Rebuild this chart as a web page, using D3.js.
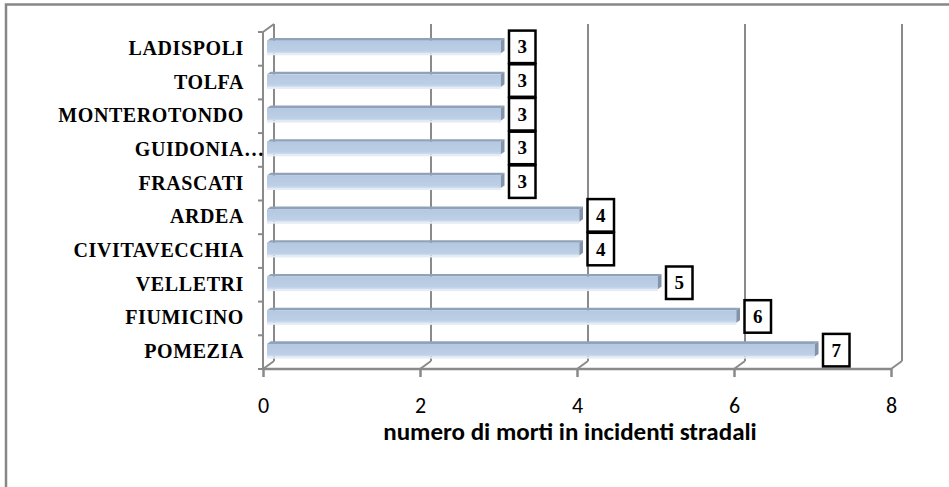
<!DOCTYPE html>
<html>
<head>
<meta charset="utf-8">
<script src="https://cdn.jsdelivr.net/npm/d3@7"></script>
<style>
  html, body { margin: 0; padding: 0; background: #fff; }
  svg { display: block; }
</style>
</head>
<body>
<svg id="chart" width="949" height="487"></svg>
<script>
// ---- data ----
const categories = ["LADISPOLI", "TOLFA", "MONTEROTONDO", "GUIDONIA\u2026", "FRASCATI",
                    "ARDEA", "CIVITAVECCHIA", "VELLETRI", "FIUMICINO", "POMEZIA"];
const values = [3, 3, 3, 3, 3, 4, 4, 5, 6, 7];
const xTicks = [0, 2, 4, 6, 8];
const xTitle = "numero di morti in incidenti stradali";

(function () {
// ---- layout ----
const svg = d3.select("#chart");
const W = 949, H = 487;
const plotL = 263, plotR = 891, plotT = 32, floorY = 369;
const DX = 11, DY = -8;   // 3D depth offset
const gridColor = "#8a8a8a";

svg.append("rect").attr("width", W).attr("height", H).attr("fill", "#fff");

// outer frame (cut at right and bottom)
svg.append("rect")
  .attr("x", 6).attr("y", 4.5).attr("width", W + 20).attr("height", H + 20)
  .attr("fill", "none").attr("stroke", "#878787").attr("stroke-width", 2.5);

const x = d3.scaleLinear().domain([0, 8]).range([plotL, plotR]);
const y = d3.scaleBand().domain(categories).range([plotT, floorY]).padding(0);

const defs = svg.append("defs");
const g1 = defs.append("linearGradient").attr("id", "front").attr("x1", 0).attr("y1", 0).attr("x2", 0).attr("y2", 1);
g1.append("stop").attr("offset", "0%").attr("stop-color", "#b4c8e1");
g1.append("stop").attr("offset", "80%").attr("stop-color", "#bccfe6");
g1.append("stop").attr("offset", "100%").attr("stop-color", "#d2dff0");

// back wall gridlines and floor diagonals
const grid = svg.append("g");
xTicks.forEach(t => {
  grid.append("line")
    .attr("x1", x(t) + DX).attr("x2", x(t) + DX)
    .attr("y1", plotT + DY).attr("y2", floorY + DY)
    .attr("stroke", gridColor).attr("stroke-width", 2);
  grid.append("line")
    .attr("x1", x(t)).attr("y1", floorY)
    .attr("x2", x(t) + DX).attr("y2", floorY + DY)
    .attr("stroke", gridColor).attr("stroke-width", 2);
});
grid.append("line")
  .attr("x1", plotL).attr("y1", plotT).attr("x2", plotL + DX).attr("y2", plotT + DY)
  .attr("stroke", gridColor).attr("stroke-width", 2);

// bottom axis
const xAxis = d3.axisBottom(x).tickValues(xTicks).tickSize(8).tickPadding(20).tickFormat(d3.format("d"));
const xa = svg.append("g").attr("transform", `translate(0,${floorY})`).call(xAxis);
xa.select(".domain").attr("stroke", gridColor).attr("stroke-width", 2.5).attr("d", `M${plotL},0H${plotR}`);
xa.selectAll(".tick line").attr("stroke", gridColor).attr("stroke-width", 2.5);
xa.selectAll(".tick text")
  .attr("fill", "#000")
  .style("font-family", "Carlito, Calibri, 'Liberation Sans Narrow', 'Liberation Sans', Arial, sans-serif")
  .style("font-size", "22px");

// left axis (front edge)
svg.append("line")
  .attr("x1", plotL).attr("x2", plotL).attr("y1", plotT).attr("y2", floorY)
  .attr("stroke", gridColor).attr("stroke-width", 2);
const bounds = categories.map(c => y(c)).concat([floorY]);
bounds.forEach(b => {
  svg.append("line").attr("x1", plotL - 5).attr("x2", plotL).attr("y1", b).attr("y2", b)
    .attr("stroke", gridColor).attr("stroke-width", 2);
});

// bars (3D)
const bars = svg.append("g");
categories.forEach((c, i) => {
  const v = values[i];
  const cy = y(c) + y.bandwidth() / 2;
  const x0 = x(0) + 4, x1 = x(v) + 2.3;
  const t0 = cy - 8.2, b0 = cy + 4.4;
  const dx = 3.7, dy = -2.6;
  bars.append("rect").attr("x", x0).attr("y", b0).attr("width", x1 - x0).attr("height", 2)
    .attr("fill", "#e5ecf5");
  bars.append("path")
    .attr("d", `M${x0},${t0}L${x0 + dx},${t0 + dy}L${x1 + dx},${t0 + dy}L${x1},${t0}Z`)
    .attr("fill", "#8fa2b9");
  bars.append("rect").attr("x", x0).attr("y", t0).attr("width", x1 - x0).attr("height", b0 - t0)
    .attr("fill", "url(#front)");
  bars.append("path")
    .attr("d", `M${x1},${t0}L${x1 + dx},${t0 + dy}L${x1 + dx},${b0 + dy}L${x1},${b0}Z`)
    .attr("fill", "#8194ab");

  const bx = x(v) + 10.5, bw = 26.5, bh = 32.5;
  const by = cy - 2 - bh / 2;
  svg.append("rect").attr("x", bx).attr("y", by).attr("width", bw).attr("height", bh)
    .attr("fill", "#fff").attr("stroke", "#000").attr("stroke-width", 2.5);
  svg.append("text").attr("x", bx + bw / 2).attr("y", by + bh / 2 + 6.5)
    .attr("text-anchor", "middle")
    .style("font-family", "'Times New Roman', 'Liberation Serif', serif")
    .style("font-weight", "bold").style("font-size", "19px")
    .text(v);
});

// category labels
categories.forEach(c => {
  const cy = y(c) + y.bandwidth() / 2;
  const hasEll = c.endsWith("\u2026");
  const base = hasEll ? c.slice(0, -1) : c;
  svg.append("text")
    .attr("x", 244).attr("y", cy + 6)
    .attr("text-anchor", "end")
    .style("font-family", "'Times New Roman', 'Liberation Serif', serif")
    .style("font-weight", "bold").style("font-size", "20px")
    .style("letter-spacing", "0.6px")
    .text(base);
  if (hasEll) {
    svg.append("text")
      .attr("x", 244).attr("y", cy + 6)
      .style("font-family", "'Times New Roman', 'Liberation Serif', serif")
      .style("font-weight", "bold").style("font-size", "20px")
      .text("\u2026");
  }
});

// x axis title
svg.append("text")
  .attr("x", 570).attr("y", 440)
  .attr("text-anchor", "middle")
  .style("font-family", "Carlito, Calibri, 'Liberation Sans', Arial, sans-serif")
  .style("font-weight", "bold").style("font-size", "25px")
  .text(xTitle);
})();
</script>
</body>
</html>
